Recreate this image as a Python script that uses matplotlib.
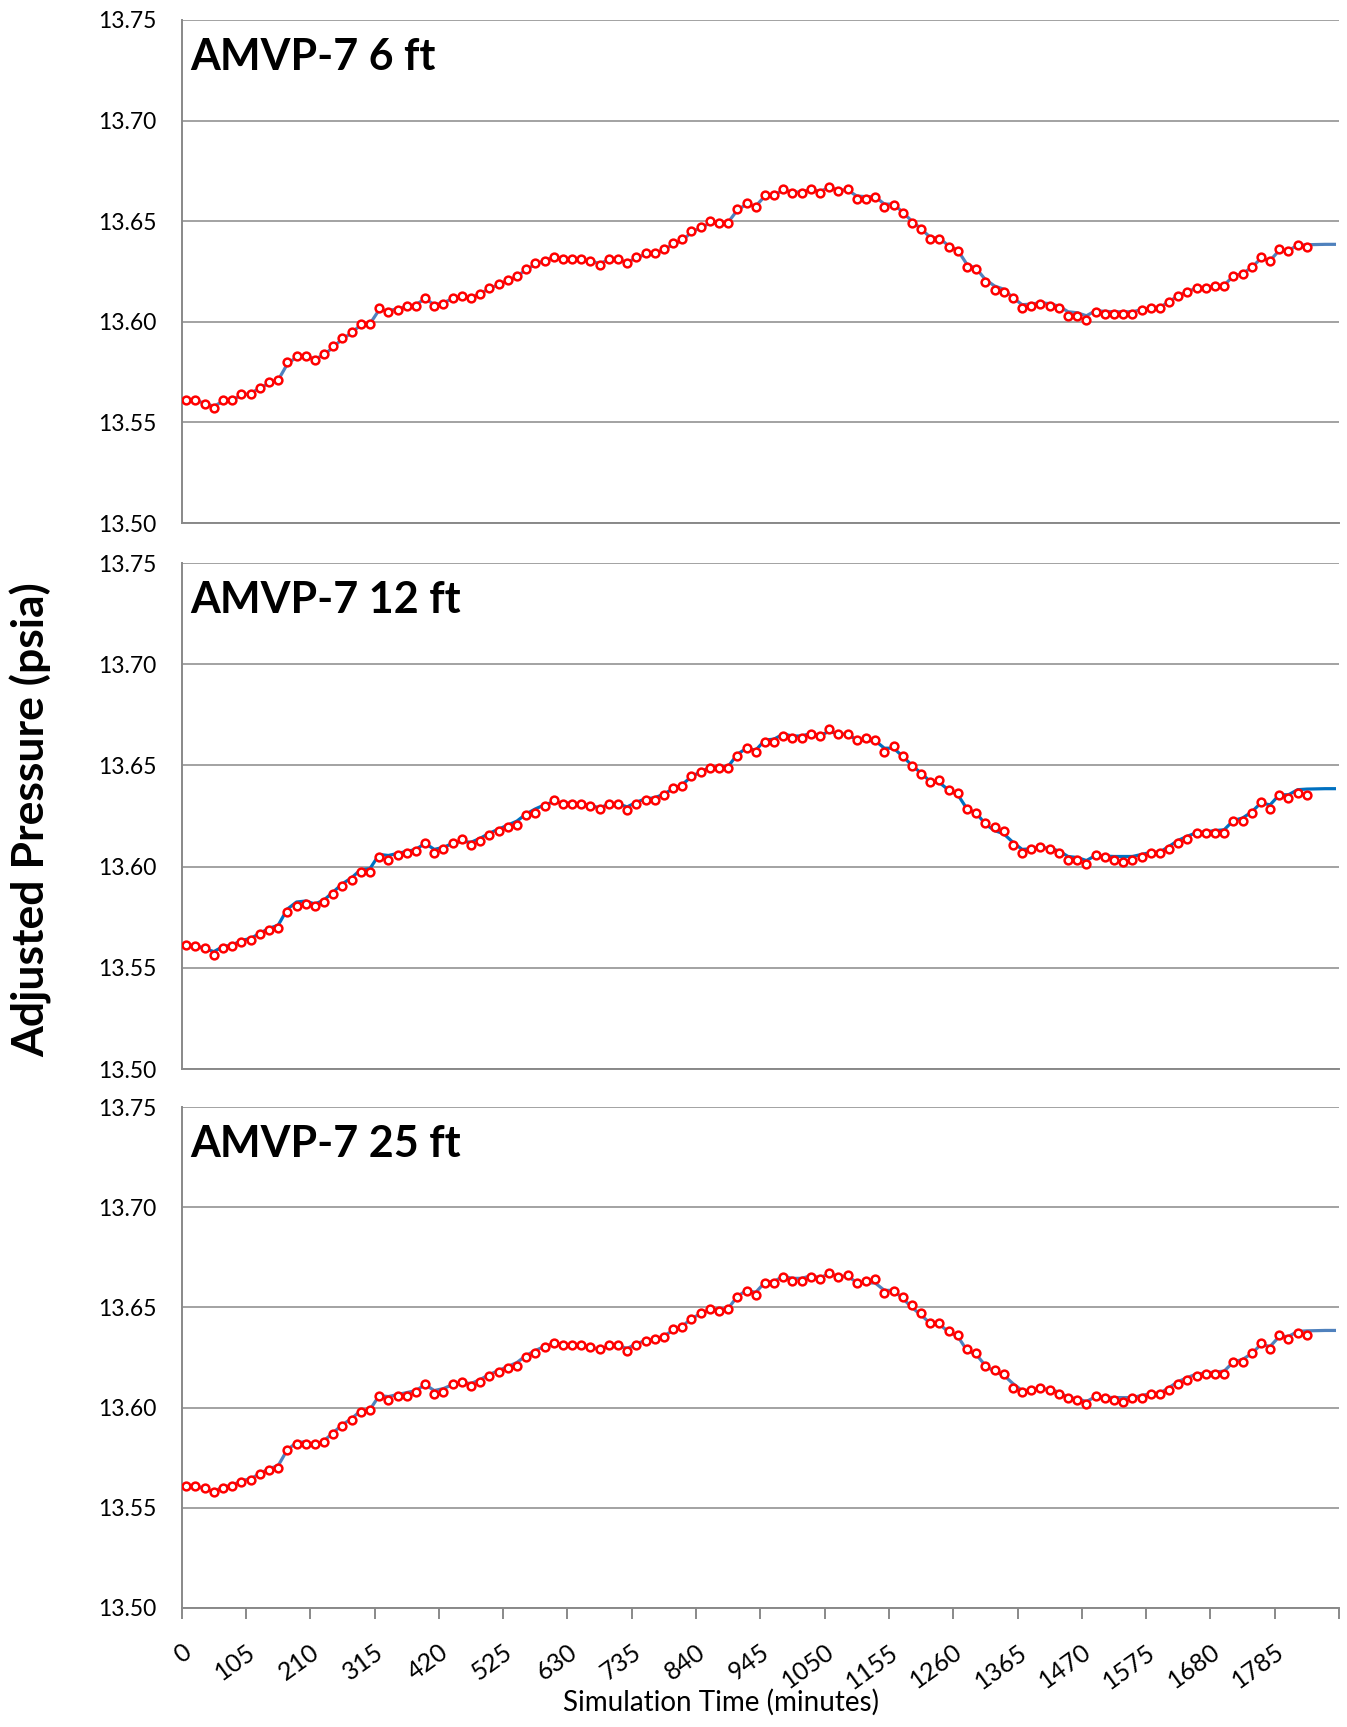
import matplotlib
matplotlib.use("Agg")
import matplotlib.pyplot as plt
import numpy as np

plt.rcParams['font.family'] = ['Lato', 'DejaVu Sans']

# ---------------- data ----------------
step_min = 15
titles = ["AMVP-7 6 ft", "AMVP-7 12 ft", "AMVP-7 25 ft"]
tick_labels = [str(v) for v in range(0, 1786, 105)]

# simulated (blue line), every 15 minutes
sim_psia = [
    13.5612, 13.5610, 13.5595, 13.5580, 13.5605, 13.5612, 13.5635, 13.5645, 13.5670, 13.5695,
    13.5710, 13.5790, 13.5825, 13.5830, 13.5815, 13.5835, 13.5875, 13.5915, 13.5945, 13.5985,
    13.5990, 13.6060, 13.6055, 13.6065, 13.6075, 13.6085, 13.6115, 13.6085, 13.6095, 13.6115,
    13.6125, 13.6120, 13.6140, 13.6165, 13.6185, 13.6205, 13.6225, 13.6260, 13.6285, 13.6305,
    13.6320, 13.6315, 13.6312, 13.6310, 13.6302, 13.6290, 13.6308, 13.6310, 13.6295, 13.6318,
    13.6335, 13.6340, 13.6358, 13.6385, 13.6405, 13.6445, 13.6468, 13.6490, 13.6492, 13.6495,
    13.6555, 13.6585, 13.6575, 13.6625, 13.6630, 13.6655, 13.6645, 13.6645, 13.6658, 13.6648,
    13.6668, 13.6655, 13.6655, 13.6625, 13.6622, 13.6622, 13.6585, 13.6585, 13.6545, 13.6500,
    13.6462, 13.6420, 13.6415, 13.6378, 13.6355, 13.6285, 13.6265, 13.6210, 13.6178, 13.6162,
    13.6120, 13.6085, 13.6088, 13.6095, 13.6090, 13.6078, 13.6050, 13.6045, 13.6030, 13.6055,
    13.6052, 13.6050, 13.6050, 13.6050, 13.6060, 13.6070, 13.6072, 13.6100, 13.6130, 13.6150,
    13.6168, 13.6172, 13.6178, 13.6182, 13.6228, 13.6240, 13.6270, 13.6315, 13.6305, 13.6355,
    13.6355, 13.6380, 13.6383, 13.6384, 13.6385, 13.6385,
]

# measured (red circles)
meas_6ft = [
    13.5610, 13.5610, 13.5590, 13.5570, 13.5610, 13.5610, 13.5640, 13.5640, 13.5670, 13.5700,
    13.5710, 13.5800, 13.5830, 13.5830, 13.5810, 13.5840, 13.5880, 13.5920, 13.5950, 13.5990,
    13.5990, 13.6070, 13.6050, 13.6060, 13.6080, 13.6080, 13.6120, 13.6080, 13.6090, 13.6120,
    13.6130, 13.6120, 13.6140, 13.6170, 13.6190, 13.6210, 13.6230, 13.6260, 13.6290, 13.6300,
    13.6320, 13.6310, 13.6310, 13.6310, 13.6300, 13.6280, 13.6310, 13.6310, 13.6290, 13.6320,
    13.6340, 13.6340, 13.6360, 13.6390, 13.6410, 13.6450, 13.6470, 13.6500, 13.6490, 13.6490,
    13.6560, 13.6590, 13.6570, 13.6630, 13.6630, 13.6660, 13.6640, 13.6640, 13.6660, 13.6640,
    13.6670, 13.6650, 13.6660, 13.6610, 13.6610, 13.6620, 13.6570, 13.6580, 13.6540, 13.6490,
    13.6460, 13.6410, 13.6410, 13.6370, 13.6350, 13.6270, 13.6260, 13.6200, 13.6160, 13.6150,
    13.6120, 13.6070, 13.6080, 13.6090, 13.6080, 13.6070, 13.6030, 13.6030, 13.6010, 13.6050,
    13.6040, 13.6040, 13.6040, 13.6040, 13.6060, 13.6070, 13.6070, 13.6100, 13.6130, 13.6150,
    13.6170, 13.6170, 13.6180, 13.6180, 13.6230, 13.6240, 13.6270, 13.6320, 13.6300, 13.6360,
    13.6350, 13.6380, 13.6370,
]
meas_12ft = [
    13.5614, 13.5606, 13.5596, 13.5565, 13.5596, 13.5606, 13.5626, 13.5635, 13.5665, 13.5686,
    13.5695, 13.5775, 13.5805, 13.5814, 13.5805, 13.5826, 13.5864, 13.5905, 13.5934, 13.5974,
    13.5974, 13.6046, 13.6034, 13.6056, 13.6066, 13.6076, 13.6115, 13.6066, 13.6085, 13.6115,
    13.6136, 13.6105, 13.6125, 13.6156, 13.6176, 13.6195, 13.6207, 13.6256, 13.6266, 13.6297,
    13.6327, 13.6307, 13.6307, 13.6307, 13.6297, 13.6287, 13.6307, 13.6307, 13.6278, 13.6307,
    13.6327, 13.6327, 13.6356, 13.6388, 13.6397, 13.6447, 13.6468, 13.6488, 13.6488, 13.6488,
    13.6548, 13.6586, 13.6567, 13.6617, 13.6617, 13.6647, 13.6637, 13.6637, 13.6657, 13.6647,
    13.6678, 13.6657, 13.6657, 13.6627, 13.6637, 13.6627, 13.6567, 13.6598, 13.6547, 13.6498,
    13.6456, 13.6417, 13.6427, 13.6378, 13.6366, 13.6287, 13.6266, 13.6217, 13.6197, 13.6177,
    13.6105, 13.6066, 13.6085, 13.6097, 13.6085, 13.6066, 13.6034, 13.6034, 13.6015, 13.6056,
    13.6046, 13.6034, 13.6025, 13.6034, 13.6046, 13.6066, 13.6066, 13.6085, 13.6115, 13.6136,
    13.6166, 13.6166, 13.6166, 13.6166, 13.6227, 13.6227, 13.6266, 13.6317, 13.6287, 13.6356,
    13.6337, 13.6366, 13.6356,
]
meas_25ft = [
    13.5608, 13.5608, 13.5598, 13.5578, 13.5598, 13.5608, 13.5628, 13.5638, 13.5668, 13.5688,
    13.5698, 13.5788, 13.5820, 13.5820, 13.5820, 13.5830, 13.5870, 13.5910, 13.5940, 13.5980,
    13.5988, 13.6060, 13.6038, 13.6060, 13.6060, 13.6078, 13.6119, 13.6070, 13.6078, 13.6119,
    13.6129, 13.6109, 13.6129, 13.6159, 13.6179, 13.6199, 13.6210, 13.6251, 13.6271, 13.6301,
    13.6321, 13.6311, 13.6311, 13.6311, 13.6301, 13.6291, 13.6311, 13.6311, 13.6281, 13.6311,
    13.6331, 13.6341, 13.6351, 13.6391, 13.6401, 13.6441, 13.6471, 13.6491, 13.6481, 13.6491,
    13.6551, 13.6581, 13.6561, 13.6621, 13.6621, 13.6651, 13.6631, 13.6631, 13.6651, 13.6641,
    13.6671, 13.6651, 13.6661, 13.6621, 13.6631, 13.6641, 13.6571, 13.6581, 13.6551, 13.6512,
    13.6471, 13.6421, 13.6421, 13.6381, 13.6360, 13.6291, 13.6271, 13.6210, 13.6190, 13.6170,
    13.6099, 13.6078, 13.6090, 13.6100, 13.6090, 13.6070, 13.6050, 13.6038, 13.6018, 13.6060,
    13.6050, 13.6038, 13.6028, 13.6050, 13.6050, 13.6070, 13.6070, 13.6090, 13.6119, 13.6140,
    13.6160, 13.6170, 13.6170, 13.6170, 13.6230, 13.6230, 13.6271, 13.6321, 13.6291, 13.6361,
    13.6341, 13.6371, 13.6361,
]
measured = [meas_6ft, meas_12ft, meas_25ft]
line_colors = ["#4F81BD", "#0070C0", "#4F81BD"]

# ---------------- figure ----------------
W, H = 1347, 1727
fig = plt.figure(figsize=(W / 100, H / 100), dpi=100)

left = 181.7 / W
width = (1339 - 181.7) / W
panels_px = [(20, 523), (563, 1069), (1107, 1608)]
grid_c = "#898989"

n_cat = 126
t_sim = np.arange(len(sim_psia)) * step_min

for k, (top, bot) in enumerate(panels_px):
    ax = fig.add_axes([left, 1 - bot / H, width, (bot - top) / H])
    ax.set_xlim(-step_min / 2, n_cat * step_min - step_min / 2)
    ax.set_ylim(13.50, 13.75)
    yt = np.round(np.arange(13.50, 13.751, 0.05), 2)
    ax.set_yticks(yt)
    ax.set_yticklabels([f"{v:.2f}" for v in yt])
    ax.yaxis.grid(True, color=grid_c, linewidth=1.1)
    ax.set_axisbelow(True)
    for s in ["top", "right"]:
        ax.spines[s].set_visible(False)
    for s in ["left", "bottom"]:
        ax.spines[s].set_color(grid_c)
        ax.spines[s].set_linewidth(1.4)
    ax.tick_params(axis="y", length=0, pad=18, labelsize=16.5, labelcolor="black")

    bounds = np.arange(-step_min / 2, n_cat * step_min, 105)
    ax.set_xticks(bounds)
    if k == 2:
        labs = tick_labels + [""] * (len(bounds) - len(tick_labels))
        ax.set_xticklabels(labs, rotation=36, ha="right", va="top",
                           rotation_mode="anchor")
        ax.tick_params(axis="x", length=8, width=1.4, color=grid_c, pad=15,
                       labelsize=18)
    else:
        ax.set_xticklabels([])
        ax.tick_params(axis="x", length=0)

    ax.plot(t_sim, sim_psia, color=line_colors[k], linewidth=2.3, zorder=3)
    meas = measured[k]
    t_meas = np.arange(len(meas)) * step_min
    ax.plot(t_meas, meas, linestyle="none", marker="o", markersize=5.6,
            markerfacecolor="white", markeredgecolor="#FF0000",
            markeredgewidth=1.8, zorder=4)

    ax.text(0.007, 1 - 37 / (bot - top), titles[k], transform=ax.transAxes,
            fontsize=31, fontweight="bold", ha="left", va="center")

fig.text(31 / W, 1 - 820 / H, "Adjusted Pressure (psia)", rotation=90,
         fontsize=32, fontweight="bold", ha="center", va="center")
fig.text(721 / W, 1 - 1702 / H, "Simulation Time (minutes)",
         fontsize=20, ha="center", va="center")

fig.savefig("out.png", dpi=100, facecolor="white")
